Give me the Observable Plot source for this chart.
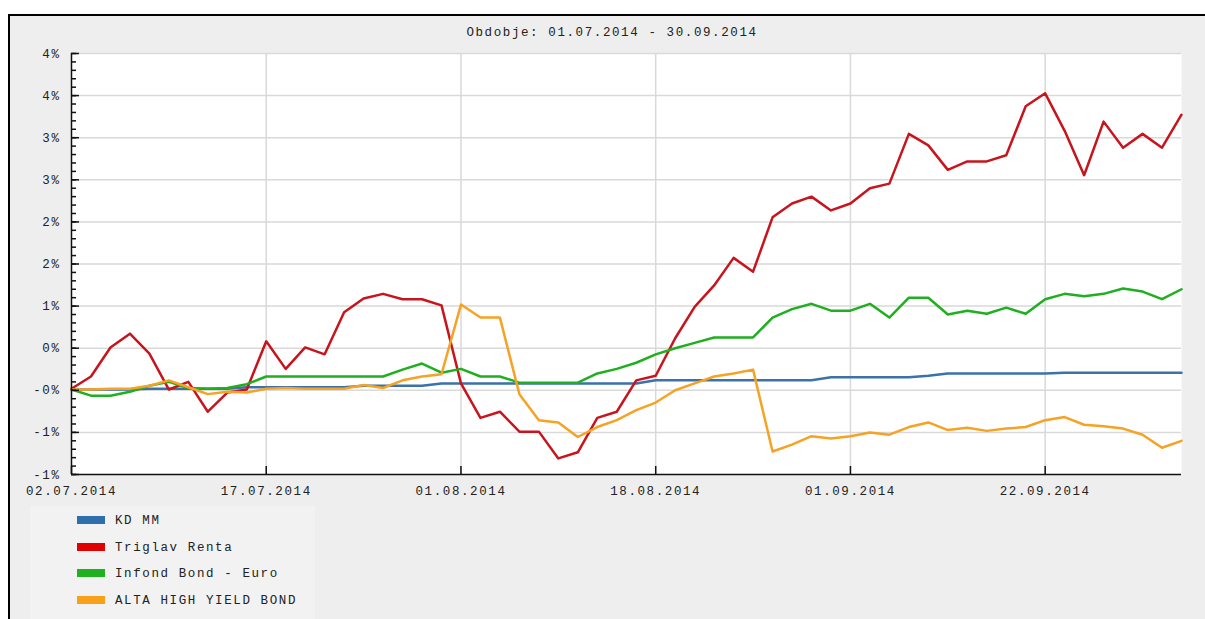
<!DOCTYPE html>
<html>
<head>
<meta charset="utf-8">
<script src="https://cdn.jsdelivr.net/npm/d3@7"></script>
<script src="https://cdn.jsdelivr.net/npm/@observablehq/plot@0.6"></script>
<style>
  html, body { margin: 0; padding: 0; background: #ffffff; }
  #wrap { position: relative; width: 1205px; height: 619px; overflow: hidden; font-family: "Liberation Mono", "DejaVu Sans Mono", monospace; color: #222; }
  #panel { position: absolute; left: 8px; top: 14px; width: 1205px; height: 620px; background: #eeeeee; border-left: 2px solid #000; border-top: 2px solid #000; }
  #legendbox { position: absolute; left: 30px; top: 506px; width: 285px; height: 120px; background: #f2f2f2; }
  #title { position: absolute; top: 24px; left: 312px; width: 600px; text-align: center; font-size: 12.5px; letter-spacing: 1.6px; line-height: 18px; }
  #chart { position: absolute; left: 0; top: 0; }
  .item { position: absolute; left: 77px; height: 18px; font-size: 12.5px; letter-spacing: 1.6px; line-height: 18px; white-space: nowrap; }
  .sw { display: inline-block; width: 28px; height: 8px; vertical-align: middle; margin-right: 10px; position: relative; top: -1px; }
</style>
</head>
<body>
<div id="wrap">
  <div id="panel"></div>
  <div id="legendbox"></div>
  <div id="title"></div>
  <div id="chart"></div>
  <div id="legend"></div>
</div>
<script>
// ---- data (percent change, one value per observation) ----
const titleText = "Obdobje: 01.07.2014 - 30.09.2014";
const seriesNames = ["KD MM", "Triglav Renta", "Infond Bond - Euro", "ALTA HIGH YIELD BOND"];
const lineColors = ["#3a72a9", "#c7141d", "#1faf1f", "#f6a224"];
const swatchColors = ["#2f6fae", "#e00000", "#20b020", "#f9a01b"];

const kdMM = [-0.09,-0.09,-0.09,-0.09,-0.08,-0.08,-0.08,-0.08,-0.08,-0.06,
  -0.06,-0.06,-0.06,-0.06,-0.06,-0.04,-0.04,-0.04,-0.04,-0.01,
  -0.01,-0.01,-0.01,-0.01,-0.01,-0.01,-0.01,-0.01,-0.01,-0.01,
  0.03,0.03,0.03,0.03,0.03,0.03,0.03,0.03,0.03,0.07,
  0.07,0.07,0.07,0.07,0.09,0.12,0.12,0.12,0.12,0.12,
  0.12,0.13,0.13,0.13,0.13,0.13,0.13,0.13];

const triglavRenta = [-0.08,0.08,0.46,0.64,0.38,-0.09,0.01,-0.38,-0.13,-0.09,
  0.54,0.18,0.46,0.37,0.92,1.10,1.16,1.09,1.09,1.01,
  -0.01,-0.46,-0.38,-0.64,-0.64,-0.99,-0.91,-0.46,-0.38,0.03,
  0.09,0.58,0.99,1.27,1.63,1.45,2.16,2.34,2.43,2.25,
  2.34,2.54,2.60,3.25,3.10,2.78,2.89,2.89,2.97,3.61,
  3.78,3.29,2.71,3.41,3.07,3.25,3.07,3.50];

const infondBond = [-0.09,-0.17,-0.17,-0.12,-0.04,0.01,-0.07,-0.08,-0.07,-0.02,
  0.08,0.08,0.08,0.08,0.08,0.08,0.08,0.17,0.25,0.13,
  0.18,0.08,0.08,0.00,0.00,0.00,0.00,0.12,0.18,0.26,
  0.37,0.45,0.52,0.59,0.59,0.59,0.85,0.96,1.03,0.94,
  0.94,1.03,0.85,1.11,1.11,0.89,0.94,0.90,0.98,0.90,
  1.09,1.16,1.13,1.16,1.23,1.19,1.09,1.22];

const altaHighYield = [-0.09,-0.09,-0.08,-0.08,-0.04,0.03,-0.06,-0.15,-0.12,-0.13,
  -0.08,-0.07,-0.08,-0.08,-0.08,-0.03,-0.07,0.03,0.08,0.11,
  1.02,0.85,0.85,-0.15,-0.49,-0.52,-0.71,-0.58,-0.49,-0.36,
  -0.26,-0.10,-0.01,0.08,0.12,0.17,-0.90,-0.81,-0.70,-0.73,
  -0.70,-0.65,-0.68,-0.58,-0.52,-0.62,-0.59,-0.63,-0.60,-0.58,
  -0.49,-0.45,-0.55,-0.57,-0.60,-0.68,-0.85,-0.76];

const xTickIndex = [0, 10, 20, 30, 40, 50];
const xTickLabels = ["02.07.2014", "17.07.2014", "01.08.2014", "18.08.2014", "01.09.2014", "22.09.2014"];
const yTicks = [-1.2, -0.65, -0.1, 0.45, 1.0, 1.55, 2.1, 2.65, 3.2, 3.75, 4.3];
const yTickLabels = ["-1%", "-1%", "-0%", "0%", "1%", "2%", "2%", "3%", "3%", "4%", "4%"];

// ---- build table ----
const allSeries = [kdMM, triglavRenta, infondBond, altaHighYield];
const rows = [];
allSeries.forEach((vals, s) => vals.forEach((v, i) => rows.push({ i, v, name: seriesNames[s] })));
const yMinor = d3.range(0, 51).map(k => yTicks[0] + k * (yTicks[1] - yTicks[0]) / 5);

// layout
const W = 1205, H = 619, mL = 71, mR = 24, mT = 53, mB = 145;
const xMin = 0, xMax = kdMM.length - 1;
const yMin = yTicks[0], yMax = yTicks[yTicks.length - 1];
// convert a tick length in pixels to data units so ticks point inward
const xPerPx = (xMax - xMin) / (W - mL - mR);
const yPerPx = (yMax - yMin) / (H - mT - mB);

document.getElementById("title").textContent = titleText;

const chart = Plot.plot({
  width: W,
  height: H,
  marginLeft: mL,
  marginRight: mR,
  marginTop: mT,
  marginBottom: mB,
  style: { background: "none", fontFamily: "Liberation Mono, DejaVu Sans Mono, monospace", fontSize: "12.5px", letterSpacing: "1.6px", color: "#222", overflow: "visible" },
  x: { domain: [xMin, xMax] },
  y: { domain: [yMin, yMax] },
  color: { domain: seriesNames, range: lineColors },
  marks: [
    Plot.frame({ fill: "white", stroke: "none" }),
    Plot.gridY(yTicks.slice(1), { stroke: "#d9d9d9", strokeOpacity: 1, strokeWidth: 1.5 }),
    Plot.gridX(xTickIndex.slice(1), { stroke: "#d9d9d9", strokeOpacity: 1, strokeWidth: 1.5 }),
    Plot.axisY(yTicks, { tickSize: 0, tickPadding: 11, tickFormat: d => yTickLabels[yTicks.indexOf(d)], label: null, fill: "#222" }),
    Plot.axisX(xTickIndex, { tickSize: 0, tickPadding: 12, tickFormat: d => xTickLabels[xTickIndex.indexOf(d)], label: null, fill: "#222" }),
    Plot.line(rows, { x: "i", y: "v", z: "name", stroke: "name", strokeWidth: 2.5, strokeLinejoin: "round" }),
    // inward axis ticks
    Plot.ruleY(yMinor, { x1: xMin, x2: xMin + 5 * xPerPx, stroke: "#111", strokeWidth: 1.5 }),
    Plot.ruleY(yTicks, { x1: xMin, x2: xMin + 8 * xPerPx, stroke: "#111", strokeWidth: 1.5 }),
    Plot.ruleX(xTickIndex, { y1: yMin, y2: yMin + 8 * yPerPx, stroke: "#111", strokeWidth: 1.5 }),
    Plot.ruleX([xMin], { stroke: "#111", strokeWidth: 1.5 }),
    Plot.ruleY([yMin], { stroke: "#111", strokeWidth: 1.5 })
  ]
});
document.getElementById("chart").appendChild(chart);

// ---- legend ----
const legend = document.getElementById("legend");
const legendTops = [512, 539, 565, 592];
seriesNames.forEach((n, k) => {
  const d = document.createElement("div");
  d.className = "item";
  d.style.top = legendTops[k] + "px";
  d.innerHTML = `<span class="sw" style="background:${swatchColors[k]}"></span>`;
  d.appendChild(document.createTextNode(n));
  legend.appendChild(d);
});
</script>
</body>
</html>
